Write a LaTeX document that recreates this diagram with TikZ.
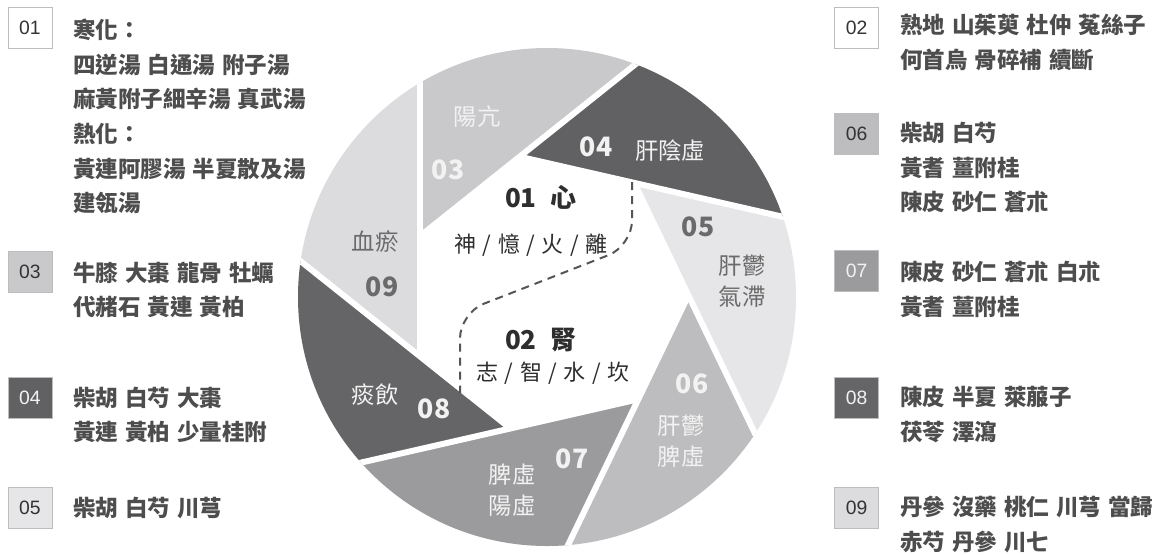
\documentclass[tikz,border=0pt]{standalone}
\usepackage{fontspec}
\usetikzlibrary{calc}
\newfontfamily\cjk[WordSpace=1.3]{Noto Sans CJK TC}
\newfontfamily\cjkc[WordSpace=1.35]{Noto Sans CJK TC}
\newfontfamily\arialfont{Liberation Sans}
\definecolor{c03}{HTML}{C9C9CB}
\definecolor{c04}{HTML}{616163}
\definecolor{c05}{HTML}{E6E6E8}
\definecolor{c06}{HTML}{BDBDBF}
\definecolor{c07}{HTML}{9B9B9D}
\definecolor{c08}{HTML}{656567}
\definecolor{c09}{HTML}{DCDCDE}
\definecolor{txtgray}{HTML}{4D4D4D}
\definecolor{labgray}{HTML}{6A6A6A}
\definecolor{ctext}{HTML}{2E2E2E}
\definecolor{dashgray}{HTML}{555555}
\definecolor{boxline}{HTML}{BDBDBD}
\definecolor{numdark}{HTML}{333333}
\definecolor{numlight}{HTML}{F2F2F2}
\begin{document}
\begin{tikzpicture}[x=0.75pt,y=-0.75pt,
  numbox/.style={draw=boxline, line width=0.75pt, minimum width=33pt, minimum height=30.75pt, inner sep=0pt, font=\arialfont\fontsize{14.5}{14.5}\selectfont, text=numdark},
  coltext/.style={anchor=base west, align=left, inner sep=0pt, text=txtgray, font=\cjk\bfseries\fontsize{16.9}{26}\selectfont},
  seglabel/.style={align=center, inner sep=0pt, font=\cjk\fontsize{17.5}{23.25}\selectfont},
  segnum/.style={inner sep=0pt, font=\cjk\bfseries\fontsize{20}{20}\selectfont},
  ctitle/.style={inner sep=0pt, text=ctext, font=\cjk\bfseries\fontsize{19.5}{20}\selectfont},
  csub/.style={inner sep=0pt, text=ctext, font=\cjkc\fontsize{16.5}{17}\selectfont},
  gap/.style={white, line width=4.5pt},
  dashpath/.style={draw=dashgray, line width=1.5pt, dash pattern=on 6pt off 4.5pt, rounded corners=19pt}
]
\useasboundingbox (0,0) rectangle (1155,554);
\fill[white] (0,0) rectangle (1155,554);

% aperture geometry: seven blade lines (point P, direction towards Q)
\coordinate (C0) at (547,296);
\coordinate (C) at (547,297);
\coordinate (P9) at ($(C0)+(-180:127)$);     \coordinate (Q9) at ($(P9)+(-90:100)$);
\coordinate (P3) at ($(C0)+(-128.57:126)$);  \coordinate (Q3) at ($(P3)+(-38.57:100)$);
\coordinate (P4) at ($(C0)+(-77.14:129.7)$); \coordinate (Q4) at ($(P4)+(12.86:100)$);
\coordinate (P5) at ($(C0)+(-25.71:127.7)$); \coordinate (Q5) at ($(P5)+(64.29:100)$);
\coordinate (P6) at ($(C0)+(25.71:127.1)$);  \coordinate (Q6) at ($(P6)+(115.71:100)$);
\coordinate (P7) at ($(C0)+(77.14:121)$);    \coordinate (Q7) at ($(P7)+(167.14:100)$);
\coordinate (P8) at ($(C0)+(128.57:126.4)$); \coordinate (Q8) at ($(P8)+(218.57:100)$);
\coordinate (V3) at (intersection of P9--Q9 and P3--Q3);
\coordinate (V4) at (intersection of P3--Q3 and P4--Q4);
\coordinate (V5) at (intersection of P4--Q4 and P5--Q5);
\coordinate (V6) at (intersection of P5--Q5 and P6--Q6);
\coordinate (V7) at (intersection of P6--Q6 and P7--Q7);
\coordinate (V8) at (intersection of P7--Q7 and P8--Q8);
\coordinate (V9) at (intersection of P8--Q8 and P9--Q9);

\begin{scope}
\clip (C) circle[radius=186.75pt];
\fill[c03] (V3) -- ($(V3)!-5!(V9)$) -- ($(V3)!6!(V4)$) -- cycle;
\fill[c04] (V4) -- ($(V4)!-5!(V3)$) -- ($(V4)!6!(V5)$) -- cycle;
\fill[c05] (V5) -- ($(V5)!-5!(V4)$) -- ($(V5)!6!(V6)$) -- cycle;
\fill[c06] (V6) -- ($(V6)!-5!(V5)$) -- ($(V6)!6!(V7)$) -- cycle;
\fill[c07] (V7) -- ($(V7)!-5!(V6)$) -- ($(V7)!6!(V8)$) -- cycle;
\fill[c08] (V8) -- ($(V8)!-5!(V7)$) -- ($(V8)!6!(V9)$) -- cycle;
\fill[c09] (V9) -- ($(V9)!-5!(V8)$) -- ($(V9)!6!(V3)$) -- cycle;
\draw[gap] (V3) -- ($(V3)!6!(V4)$);
\draw[gap] (V4) -- ($(V4)!6!(V5)$);
\draw[gap] (V5) -- ($(V5)!6!(V6)$);
\draw[gap] (V6) -- ($(V6)!6!(V7)$);
\draw[gap] (V7) -- ($(V7)!6!(V8)$);
\draw[gap] (V8) -- ($(V8)!6!(V9)$);
\draw[gap] (V9) -- ($(V9)!6!(V3)$);
\end{scope}

% segment labels
\node[seglabel, text=numlight] (l03) at (477,117) {陽亢};
\node[segnum, text=numlight] (n03) at (448,170) {03};
\node[segnum, text=numlight] (n04) at (596,147) {04};
\node[seglabel, text=numlight] (l04) at (670,151) {肝陰虛};
\node[segnum, text=labgray] (n05) at (698,227) {05};
\node[seglabel, text=labgray] (l05) at (742,281) {肝鬱\\氣滯};
\node[segnum, text=numlight] (n06) at (692,384) {06};
\node[seglabel, text=numlight] (l06) at (681,441) {肝鬱\\脾虛};
\node[segnum, text=numlight] (n07) at (572,459) {07};
\node[seglabel, text=numlight] (l07) at (512,490) {脾虛\\陽虛};
\node[seglabel, text=numlight] (l08) at (375,395) {痰飲};
\node[segnum, text=numlight] (n08) at (434,409) {08};
\node[seglabel, text=labgray] (l09) at (375,242) {血瘀};
\node[segnum, text=labgray] (n09) at (382,287) {09};

% centre
\node[ctitle] (h1) at (541,197) {01\hspace{0.55em}心};
\node[csub] (s1) at (531,245) {神 / 憶 / 火 / 離};
\node[ctitle] (h2) at (541,340) {02\hspace{0.55em}腎};
\node[csub] (s2) at (553,373) {志 / 智 / 水 / 坎};
\coordinate (d1) at (632,182);
\coordinate (d2) at (460,393);
\draw[dashpath] (d1) -- (632,246) -- (460,313) -- (d2);

% number boxes
\node[numbox, fill=white] (b01) at (30,27.5) {01};
\node[numbox, fill=c03] (b03) at (30,272) {03};
\node[numbox, fill=c04, text=numlight] (b04) at (30,397.5) {04};
\node[numbox, fill=c05] (b05) at (30,508) {05};
\node[numbox, fill=white] (b02) at (856.5,27.5) {02};
\node[numbox, fill=c06] (b06) at (856.5,134) {06};
\node[numbox, fill=c07, text=numlight] (b07) at (856.5,271) {07};
\node[numbox, fill=c08, text=numlight] (b08) at (856.5,397.5) {08};
\node[numbox, fill=c09] (b09) at (856.5,508) {09};

% lists (anchored at the baseline of the last line)
\node[coltext] (t01) at (73,211.8) {寒化：\\四逆湯 白通湯 附子湯\\麻黃附子細辛湯 真武湯\\熱化：\\黃連阿膠湯 半夏散及湯\\建瓴湯};
\node[coltext] (t03) at (73,315.8) {牛膝 大棗 龍骨 牡蠣\\代赭石 黃連 黃柏};
\node[coltext] (t04) at (73,440.7) {柴胡 白芍 大棗\\黃連 黃柏 少量桂附};
\node[coltext] (t05) at (73,516.5) {柴胡 白芍 川芎};
\node[coltext] (t02) at (900,68.2) {熟地 山茱萸 杜仲 菟絲子\\何首烏 骨碎補 續斷};
\node[coltext] (t06) at (900,210.8) {柴胡 白芍\\黃耆 薑附桂\\陳皮 砂仁 蒼朮};
\node[coltext] (t07) at (900,315.2) {陳皮 砂仁 蒼朮 白朮\\黃耆 薑附桂};
\node[coltext] (t08) at (900,440.2) {陳皮 半夏 萊菔子\\茯苓 澤瀉};
\node[coltext] (t09) at (900,550) {丹參 沒藥 桃仁 川芎 當歸\\赤芍 丹參 川七};
\end{tikzpicture}
\end{document}
